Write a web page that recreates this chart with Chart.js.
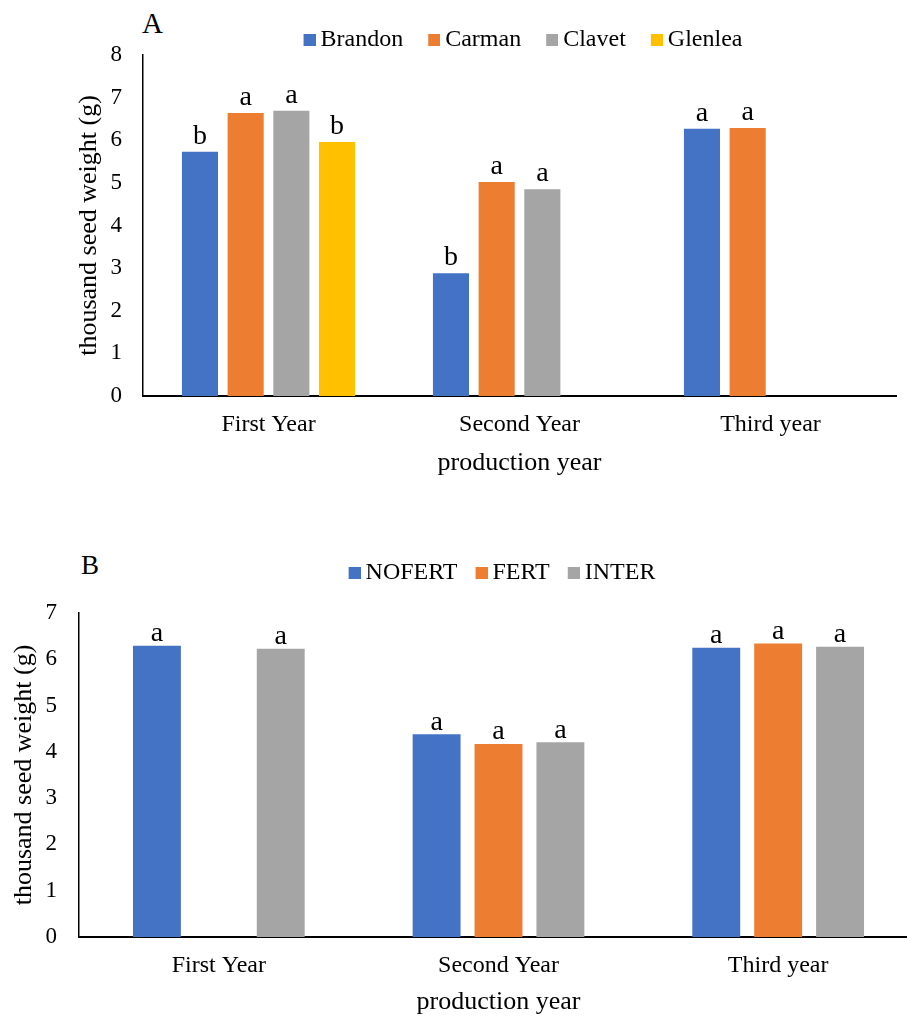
<!DOCTYPE html>
<html>
<head>
<meta charset="utf-8">
<script src="https://cdn.jsdelivr.net/npm/chart.js@4"></script>
<style>
  html, body { margin:0; padding:0; background:#fff; overflow:hidden; }
  body { width:907px; height:1017px; position:relative; }
  canvas { position:absolute; left:0; }
  .panel { position:absolute; font-family:'Liberation Serif', 'Times New Roman', serif; line-height:1; color:#000; }
</style>
</head>
<body>
<div class="panel" style="left:142px; top:9px; font-size:29px;">A</div>
<div class="panel" style="left:81px; top:552px; font-size:27px;">B</div>
<canvas id="chartA" width="907" height="479" style="top:0"></canvas>
<canvas id="chartB" width="930" height="478" style="top:540px"></canvas>
<script>
const FONT = "'Liberation Serif', 'Times New Roman', serif";
const years = ['First Year', 'Second Year', 'Third year'];

// panel A: location
const brandon = [5.73, 2.88, 6.27];
const carman  = [6.64, 5.02, 6.29];
const clavet  = [6.69, 4.85, null];
const glenlea = [5.96, null, null];
const brandonSig = ['b', 'b', 'a'];
const carmanSig  = ['a', 'a', 'a'];
const clavetSig  = ['a', 'a', ''];
const glenleaSig = ['b', '', ''];

// panel B: fertilizer treatment
const nofert = [6.29, 4.38, 6.25];
const fert   = [null, 4.17, 6.34];
const inter  = [6.23, 4.21, 6.27];
const nofertSig = ['a', 'a', 'a'];
const fertSig   = ['', 'a', 'a'];
const interSig  = ['a', 'a', 'a'];

const BLUE = '#4472C4', ORANGE = '#ED7D31', GRAY = '#A5A5A5', GOLD = '#FFC000';

Chart.defaults.font.family = FONT;
Chart.defaults.color = '#000';

// legend square sitting close to its text (right part of a wider transparent image)
function swatch(color) {
  const c = document.createElement('canvas');
  c.width = 26; c.height = 12;
  const g = c.getContext('2d');
  g.fillStyle = color;
  g.fillRect(14, 0, 12, 12);
  return c;
}

// letters above bars
const sigLabels = {
  id: 'sigLabels',
  afterDatasetsDraw(chart, args, opts) {
    const ctx = chart.ctx;
    ctx.save();
    ctx.font = `${opts.size}px ${FONT}`;
    ctx.fillStyle = '#000';
    ctx.textAlign = 'center';
    ctx.textBaseline = 'alphabetic';
    chart.data.datasets.forEach((ds, i) => {
      chart.getDatasetMeta(i).data.forEach((bar, j) => {
        const t = ds.sig[j];
        if (!t || ds.data[j] == null) return;
        ctx.fillText(t, bar.x, bar.y - opts.gap);
      });
    });
    ctx.restore();
  }
};

// fixed legend block height so the plot top lands where it should
const legendHeight = {
  id: 'legendHeight',
  beforeLayout(chart, args, opts) {
    const lg = chart.legend;
    if (!lg || lg._fixedFit) return;
    const fit = lg.fit;
    lg.fit = function() { fit.call(this); this.height = opts.h; };
    lg._fixedFit = true;
  }
};

function makeChart(id, sets, o) {
  const swatches = sets.map(s => swatch(s.color));
  return new Chart(document.getElementById(id), {
    type: 'bar',
    data: {
      labels: years,
      datasets: sets.map(s => ({
        label: s.label, data: s.data, sig: s.sig,
        backgroundColor: s.color, borderWidth: 0,
        categoryPercentage: o.cat, barPercentage: o.bar
      }))
    },
    plugins: [sigLabels, legendHeight],
    options: {
      responsive: false,
      devicePixelRatio: 1,
      animation: false,
      layout: { padding: o.pad },
      plugins: {
        legend: {
          position: 'top', fullSize: false,
          labels: {
            font: { size: 24 }, boxWidth: 12, boxHeight: 12, padding: o.legPad, color: '#000',
            usePointStyle: true, pointStyleWidth: 12,
            generateLabels: chart => Chart.defaults.plugins.legend.labels.generateLabels(chart)
              .map((it, i) => ({ ...it, pointStyle: swatches[i] }))
          }
        },
        tooltip: { enabled: false },
        sigLabels: { size: 28, gap: o.gap },
        legendHeight: { h: o.legH }
      },
      scales: {
        x: {
          grid: { display: false, drawTicks: false },
          border: { display: true, color: '#000', width: 2 },
          ticks: { font: { size: 24 }, padding: 14, color: '#000' },
          title: { display: true, text: 'production year', font: { size: 26 }, color: '#000', padding: { top: 8, bottom: 0 } },
          afterFit: s => { s.height = o.xH; }
        },
        y: {
          min: 0, max: o.max,
          grid: { display: false, drawTicks: false },
          border: { display: true, color: '#000', width: 1.5 },
          ticks: { stepSize: 1, font: { size: 23 }, padding: o.yTickPad, color: '#000' },
          title: { display: true, text: 'thousand seed weight (g)', font: { size: 26 }, color: '#000', padding: { top: o.yTitlePad, bottom: 0 } },
          afterFit: s => { s.width = o.yW; }
        }
      }
    }
  });
}

makeChart('chartA', [
  { label: 'Brandon', data: brandon, sig: brandonSig, color: BLUE },
  { label: 'Carman',  data: carman,  sig: carmanSig,  color: ORANGE },
  { label: 'Clavet',  data: clavet,  sig: clavetSig,  color: GRAY },
  { label: 'Glenlea', data: glenlea, sig: glenleaSig, color: GOLD }
], { max: 8, cat: 0.728, bar: 0.79, pad: { left: 60, right: 11, top: 10, bottom: 0 }, legPad: 18, legH: 45,
     gap: 8, xH: 83, yTickPad: 21, yTitlePad: 14, yW: 83 });

makeChart('chartB', [
  { label: 'NOFERT', data: nofert, sig: nofertSig, color: BLUE },
  { label: 'FERT',   data: fert,   sig: fertSig,   color: ORANGE },
  { label: 'INTER',  data: inter,  sig: interSig,  color: GRAY }
], { max: 7, cat: 0.664, bar: 0.774, pad: { left: 0, right: 12, top: 10, bottom: 0 }, legPad: 11, legH: 63,
     gap: 4.5, xH: 81, yTickPad: 22, yTitlePad: 9, yW: 79 });
</script>
</body>
</html>
